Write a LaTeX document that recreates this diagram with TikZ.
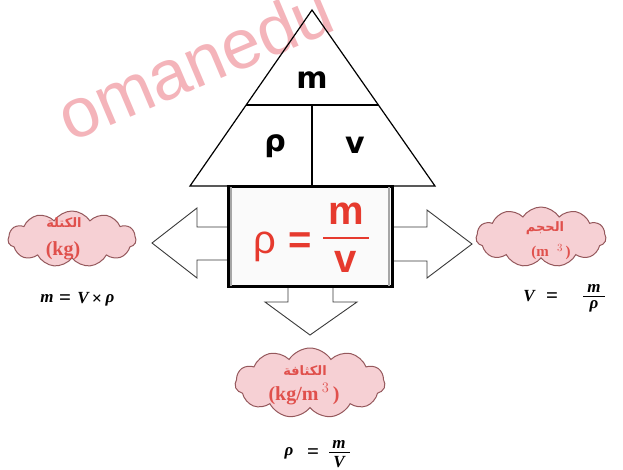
\documentclass[tikz,border=0pt]{standalone}
\usepackage{fontspec}
\usepackage{amsmath}
\usetikzlibrary{shapes.symbols,calc}
\setmainfont{Liberation Serif}
\newfontfamily\sansA{Liberation Sans}
\newfontfamily\sansB{DejaVu Sans}
\newfontfamily\arabicfont[Script=Arabic]{DejaVu Sans}
\TeXXeTstate=1
\definecolor{cloudfill}{HTML}{F6D0D4}
\definecolor{clouddraw}{HTML}{95585C}
\definecolor{cloudtext}{HTML}{E0504C}
\definecolor{boxred}{HTML}{E63A2E}
\definecolor{wmpink}{HTML}{F4B4BA}
\definecolor{arrowgray}{HTML}{3A3A3A}
\tikzset{
  puff/.style={cloud, cloud puffs=11, cloud puff arc=115, draw=clouddraw, fill=cloudfill, line width=1pt, inner sep=0pt},
  cloudlbl/.style={text=cloudtext, font=\arabicfont\bfseries\fontsize{13}{14}\selectfont, inner sep=0pt},
  unitlbl/.style={text=cloudtext, font=\bfseries\fontsize{20}{21}\selectfont, inner sep=0pt},
  formula/.style={font=\bfseries\itshape\fontsize{17}{18}\selectfont, inner sep=0pt},
  eqsign/.style={font=\bfseries\fontsize{21}{22}\selectfont, inner sep=0pt},
  fracnum/.style={font=\bfseries\itshape\fontsize{17}{18}\selectfont, inner sep=0pt},
  trilbl/.style={font=\sansB\bfseries\fontsize{30}{32}\selectfont, inner sep=0pt},
  blockarrow/.style={draw=arrowgray, fill=white, line width=0.9pt, line join=miter},
  boxlbl/.style={text=boxred, font=\sansA\fontsize{40}{42}\selectfont, inner sep=0pt},
  boxbold/.style={boxlbl, font=\sansA\bfseries\fontsize{40}{42}\selectfont}
}
\begin{document}
\begin{tikzpicture}[x=1pt,y=-1pt]
\useasboundingbox (0,0) rectangle (623,469);
\fill[white] (0,0) rectangle (623,469);

% watermark
\node[rotate=23, text=wmpink, anchor=base west, inner sep=0pt,
      font=\sansA\fontsize{70}{70}\selectfont] (wm) at (70,143) {omanedu};

% triangle
\coordinate (apex) at (312,10);
\coordinate (bl) at (190,186);
\coordinate (br) at (435,186);
\coordinate (ml) at (246,105);
\coordinate (mr) at (378,105);
\coordinate (mm) at (312,105);
\coordinate (bm) at (312,186);
\draw[line width=1.2pt, line join=miter] (apex) -- (br) -- (bl) -- cycle;
\draw[line width=1.6pt] (ml) -- (mr);
\draw[line width=1.6pt] (mm) -- (bm);
\node[trilbl] (tm) at (312,80) {m};
\node[trilbl] (tr) at (275,146) {ρ};
\node[trilbl] (tv) at (355,145) {v};

% block arrows
\draw[blockarrow] (228,227) -- (197,227) -- (197,208) -- (152,243) -- (197,278) -- (197,260) -- (228,260);
\draw[blockarrow] (392,227) -- (427,227) -- (427,210) -- (472,244) -- (427,278) -- (427,261) -- (392,261);
\draw[blockarrow] (288,286) -- (288,302) -- (265,302) -- (310,335) -- (357,302) -- (333,302) -- (333,286);

% formula box
\node[draw=black, line width=3pt, fill=white!96!gray, minimum width=164, minimum height=100, inner sep=0pt] (box) at (310,236) {};
\draw[gray!70, line width=1.6pt] ($(box.north west)+(4.5,2)$) -- ($(box.south west)+(4.5,-2)$);
\draw[gray!70, line width=1.6pt] ($(box.north east)+(-4.5,2)$) -- ($(box.south east)+(-4.5,-2)$);
\draw[black, line width=1.2pt] (bl-|box.west) -- (br-|box.east);
\node[boxlbl] (rho) at (265,247) {ρ};
\node[boxbold] (eq) at (300,243) {=};
\node[boxbold] (num) at (346,214) {m};
\node[boxbold] (den) at (346,262) {v};
\draw[boxred, line width=1.4pt] (323,238) -- (369,238);

% left cloud
\node[puff, minimum width=128, minimum height=56] (cl) at (72,239) {};
\node[cloudlbl] (cla) at (64,223) {\beginR الكتلة\endR};
\node[unitlbl] (clu) at (63,251) {(kg)};
\node[formula] (clm) at (47,298) {m};
\node[eqsign] (cle) at (65,300) {=};
\node[formula] (clV) at (83,298) {V};
\node[eqsign, font=\bfseries\fontsize{18}{19}\selectfont] (clx) at (97,300) {×};
\node[formula] (clr) at (110,300) {ρ};

% right cloud
\node[puff, minimum width=130, minimum height=60] (cr) at (541,237) {};
\node[cloudlbl] (cra) at (545,228) {\beginR الحجم\endR};
\node[unitlbl, font=\bfseries\fontsize{15}{16}\selectfont] (cru) at (551,252) {(m\;\;$^{3}$\,)};
\node[formula] (crV) at (529,296) {V};
\node[eqsign] (crE) at (552,298) {=};
\node[fracnum] (crN) at (594,288) {m};
\node[fracnum] (crD) at (594,306) {ρ};
\draw[line width=0.9pt] (583,296.5) -- (605,296.5);

% bottom cloud
\node[puff, minimum width=150, minimum height=70] (cb) at (310,383) {};
\node[cloudlbl] (cba) at (305,371) {\beginR الكثافة\endR};
\node[unitlbl] (cbu) at (304,394) {(kg/m\,$^{3}$\,)};
\node[formula] (cbR) at (289,453) {ρ};
\node[eqsign] (cbE) at (313,454) {=};
\node[fracnum] (cbN) at (339,444) {m};
\node[fracnum] (cbD) at (339,462) {V};
\draw[line width=0.9pt] (329,452.5) -- (350,452.5);
\end{tikzpicture}
\end{document}
